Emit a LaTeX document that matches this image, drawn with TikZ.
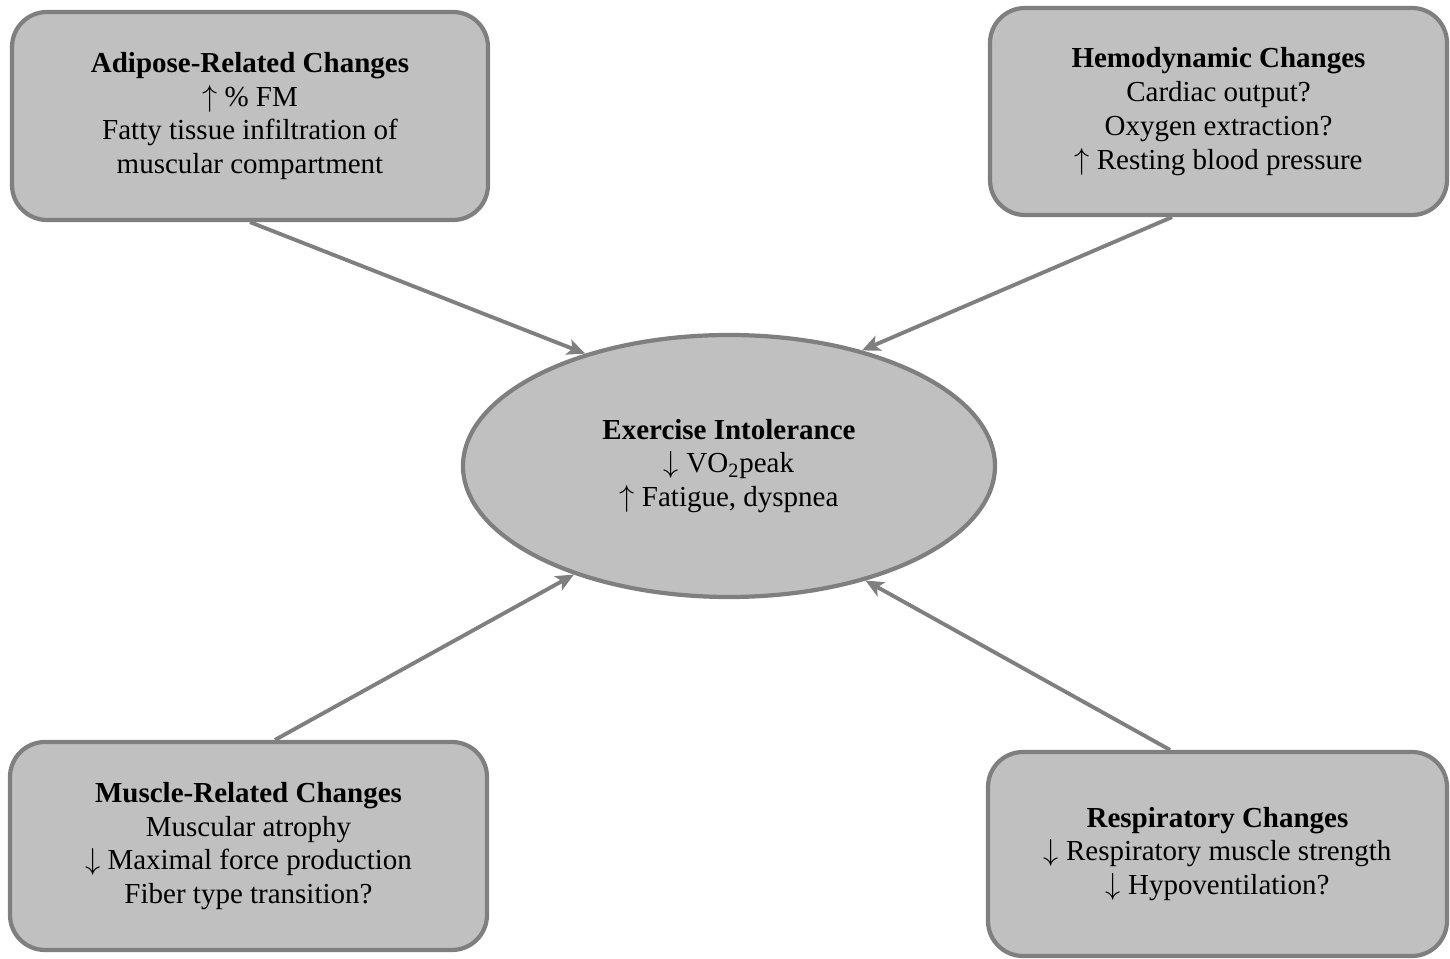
\documentclass[tikz,border=0pt]{standalone}
\usepackage{fontspec}
\setmainfont{Liberation Serif}
\usetikzlibrary{arrows.meta,shapes.geometric}
\definecolor{silver}{HTML}{C0C0C0}
\definecolor{rim}{HTML}{7F7F7F}

\begin{document}
\begin{tikzpicture}[every node/.style={font=\fontsize{16.5}{19.2}\selectfont}, box/.style={draw=rim,line width=2.4pt,rounded corners=7mm,fill=silver,align=center,inner sep=0pt}, hub/.style={draw=rim,line width=2.4pt,ellipse,fill=silver,align=center,inner sep=0pt,minimum width=10.64cm,minimum height=5.24cm}, arr/.style={-{Stealth[length=3.6mm,width=3.2mm,inset=0.9mm]},line width=2.2pt,draw=rim}]
\useasboundingbox (0,0) rectangle (29,-19.18);
\node[hub] (intol) at (14.58,-9.32) {\textbf{Exercise Intolerance}\\$\downarrow$ VO\textsubscript{2}peak\\$\uparrow$ Fatigue, dyspnea};
\node[box,minimum width=9.52cm,minimum height=4.16cm] (adipose) at (5.0,-2.32) {\textbf{Adipose-Related Changes}\\$\uparrow$ \% FM\\Fatty tissue infiltration of\\muscular compartment};
\node[box,minimum width=9.14cm,minimum height=4.14cm] (hemo) at (24.37,-2.23) {\textbf{Hemodynamic Changes}\\Cardiac output?\\Oxygen extraction?\\$\uparrow$ Resting blood pressure};
\node[box,minimum width=9.54cm,minimum height=4.16cm] (muscle) at (4.97,-16.92) {\textbf{Muscle-Related Changes}\\Muscular atrophy\\$\downarrow$ Maximal force production\\Fiber type transition?};
\node[box,minimum width=9.18cm,minimum height=4.08cm] (resp) at (24.35,-17.08) {\textbf{Respiratory Changes}\\$\downarrow$ Respiratory muscle strength\\$\downarrow$ Hypoventilation?};
\draw[arr] (adipose.south)--(intol.142);\draw[arr] ([xshift=-0.93cm]hemo.south)--(intol.41);\draw[arr] ([xshift=0.53cm]muscle.north)--(intol.215);\draw[arr] ([xshift=-0.95cm]resp.north)--(intol.320);
\end{tikzpicture}
\end{document}
